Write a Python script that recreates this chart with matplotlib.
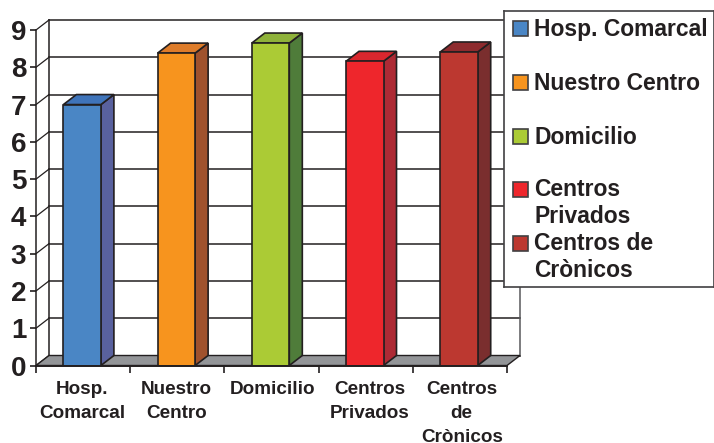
import matplotlib
matplotlib.use('Agg')
import matplotlib.pyplot as plt
from matplotlib.patches import Polygon, Rectangle

plt.rcParams['font.family'] = ['Liberation Sans', 'DejaVu Sans']
plt.rcParams['font.weight'] = 'bold'

W, H = 714, 443
INK = '#231f20'

categories = ['Hosp.\nComarcal', 'Nuestro\nCentro', 'Domicilio', 'Centros\nPrivados', 'Centros\nde\nCrònicos']
values = [7.0, 8.38, 8.65, 8.16, 8.41]
front_colors = ['#4a86c5', '#f7941e', '#abcb35', '#ee262c', '#bc3830']
side_colors = ['#59619e', '#a0522d', '#4f7c3a', '#ad2a35', '#7a2e2e']
top_colors = ['#3f74ba', '#de7c2a', '#8fb23a', '#d9272e', '#8e2b2e']
legend_labels = ['Hosp. Comarcal', 'Nuestro Centro', 'Domicilio', 'Centros\nPrivados', 'Centros de\nCrònicos']
legend_rows = [28, 82, 136, 189, 243]
y_ticks = list(range(10))

fig = plt.figure(figsize=(W / 100, H / 100), dpi=100, facecolor='white')

# eje en el plano frontal: x 36-507 px, y 30-365.5 px
ax = fig.add_axes([36 / W, 1 - 365.5 / H, 471 / W, 335.5 / H])
ax.set_xlim(0, 5)
ax.set_ylim(0, 9)
ax.patch.set_visible(False)
for s in ax.spines.values():
    s.set_visible(False)

# profundidad del efecto 3D en unidades de datos
dx = 13 / (471 / 5)
dy = 10 / (335.5 / 9)

# suelo
ax.add_patch(Polygon([(0, 0), (dx, dy), (5 + dx, dy), (5, 0)], closed=True, fc='#939598',
                     ec=INK, lw=1.0, clip_on=False, zorder=1))

# rejilla: pared del fondo y pared izquierda
for t in y_ticks:
    ax.plot([dx, 5 + dx], [t + dy, t + dy], color=INK, lw=1.1, clip_on=False, zorder=0.5)
    ax.plot([0, dx], [t, t + dy], color=INK, lw=0.9, clip_on=False, zorder=0.5)
ax.plot([0, 0], [0, 9], color=INK, lw=1.1, clip_on=False, zorder=0.5)
ax.plot([dx, dx], [dy, 9 + dy], color=INK, lw=1.1, clip_on=False, zorder=0.5)
ax.plot([5 + dx, 5 + dx], [dy, 9 + dy], color='#58595b', lw=1.1, clip_on=False, zorder=0.5)

# barras
bw = 37.5 / (471 / 5)
centers = [i + 0.49 for i in range(5)]
ax.bar(centers, values, width=bw, color=front_colors, edgecolor=INK, linewidth=1.2, zorder=3)
for c, v, sc, tc in zip(centers, values, side_colors, top_colors):
    r = c + bw / 2
    l = c - bw / 2
    ax.add_patch(Polygon([(r, 0), (r + dx, dy), (r + dx, v + dy), (r, v)], closed=True, fc=sc,
                         ec=INK, lw=1.2, clip_on=False, zorder=2))
    ax.add_patch(Polygon([(l, v), (l + dx, v + dy), (r + dx, v + dy), (r, v)], closed=True, fc=tc,
                         ec=INK, lw=1.2, clip_on=False, zorder=2))

# ejes
ax.set_yticks(y_ticks)
ax.set_yticklabels([str(t) for t in y_ticks], fontsize=20, color=INK, fontweight='bold')
ax.tick_params(axis='y', length=4, width=1.2, color=INK, pad=3)
ax.set_xticks(range(6))
ax.set_xticklabels([])
ax.tick_params(axis='x', length=5, width=1.2, color=INK)
ax.plot([0, 5], [0, 0], color=INK, lw=1.4, clip_on=False, zorder=4)
# las etiquetas no quedan centradas del todo bajo las barras
label_shift = [0, 0, 1.5, 3.5, 2]
for c, lab, sh in zip(centers, categories, label_shift):
    ax.annotate(lab, (c, 0), xytext=(sh, -11), textcoords='offset points', ha='center', va='top',
                fontsize=13.6, color=INK, fontweight='bold', linespacing=1.56, annotation_clip=False)

# leyenda
lg = fig.add_axes([503.5 / W, 1 - 287 / H, 210 / W, 276 / H])
lg.set_xlim(503.5, 713.5)
lg.set_ylim(287, 11)
lg.set_xticks([])
lg.set_yticks([])
lg.set_facecolor('white')
for s in lg.spines.values():
    s.set_color('#414042')
    s.set_linewidth(1.2)
for yr, lab, col in zip(legend_rows, legend_labels, front_colors):
    lg.add_patch(Rectangle((512.5, yr - 7.5), 15, 15, fc=col, ec='#414042', lw=1.2))
    lg.text(534, yr - 10.5, lab, fontsize=16.5, color=INK, fontweight='bold', va='top', ha='left', linespacing=1.22)

fig.savefig('out.png', dpi=100, facecolor='white')
